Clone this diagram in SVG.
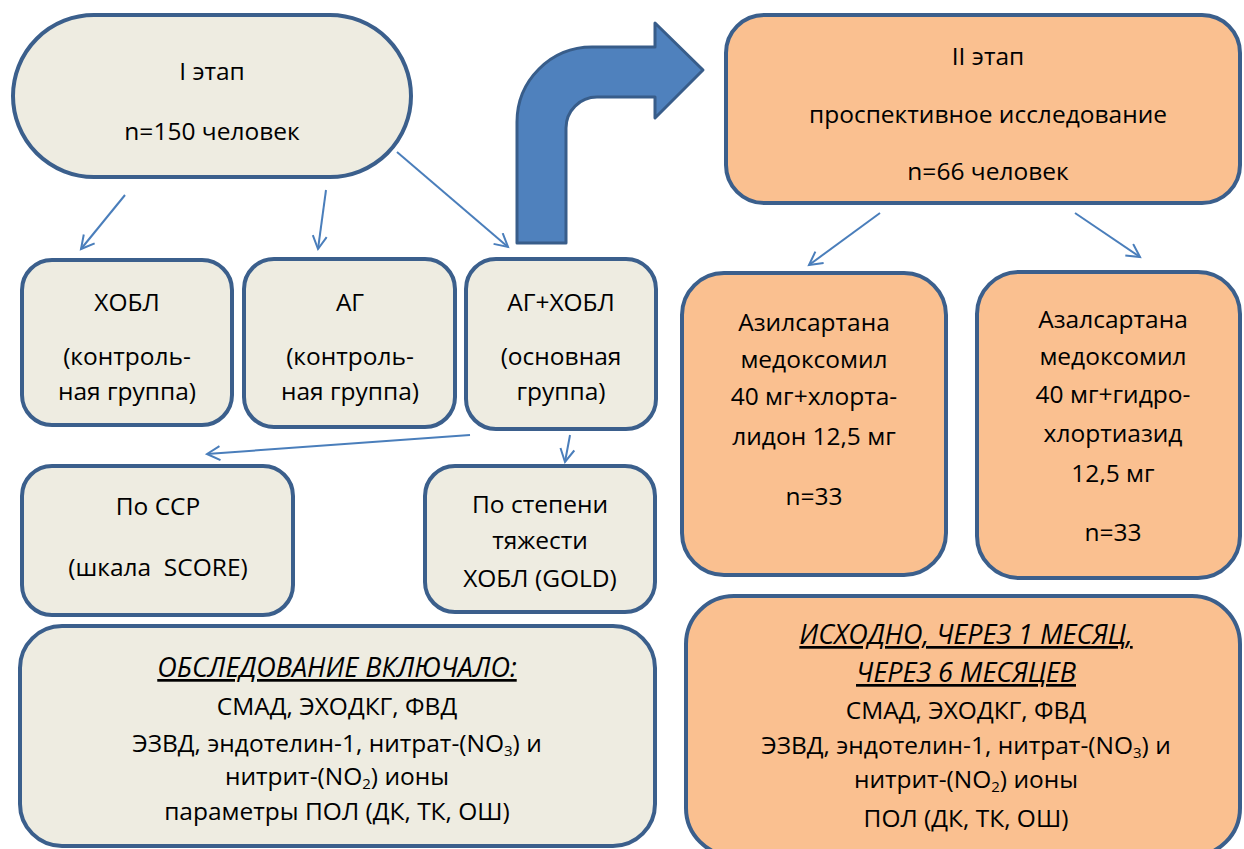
<svg xmlns="http://www.w3.org/2000/svg" width="1244" height="849" viewBox="0 0 1244 849">
<defs>
<style>
.box{stroke:#3b5f8c;stroke-width:4}
.beige{fill:#eeece1}
.orange{fill:#fac090}
text{font-family:"Open Sans","Liberation Sans",sans-serif;font-size:24.5px;fill:#000;text-anchor:middle}
.it{font-style:italic;text-decoration:underline;font-size:27px}
.sub{font-size:15px}
.conn{stroke:#4a7ebb;stroke-width:2;fill:none;marker-end:url(#arr)}
</style>
<marker id="arr" markerUnits="userSpaceOnUse" markerWidth="18" markerHeight="18" refX="15" refY="8" orient="auto">
<path d="M2,1 L15,8 L2,15" fill="none" stroke="#4a7ebb" stroke-width="2"/>
</marker>
</defs>
<rect width="1244" height="849" fill="#fff"/>

<g id="connectors">
<line class="conn" x1="125" y1="195" x2="81" y2="249"/>
<line class="conn" x1="326" y1="190" x2="318" y2="249"/>
<line class="conn" x1="397" y1="152" x2="508" y2="247"/>
<line class="conn" x1="880" y1="213" x2="809" y2="265"/>
<line class="conn" x1="1075" y1="213" x2="1140" y2="257"/>
<line class="conn" x1="470" y1="435" x2="207" y2="454"/>
<line class="conn" x1="570" y1="435" x2="565" y2="462"/>
<path id="bigarrow" d="M517,243 L517,122 A75,75 0 0 1 592,47 L655,47 L655,23 L703,70 L655,118 L655,97 L597,97 A31,31 0 0 0 566,128 L566,243 Z" fill="#4f81bd" stroke="#385d8a" stroke-width="3" stroke-linejoin="round"/>
</g>

<g id="stage1">
<rect class="box beige" x="13" y="15" width="398" height="162" rx="81" ry="81"/>
<text x="212" y="80">I этап</text>
<text x="212" y="140">n=150 человек</text>
</g>

<g id="stage2">
<rect class="box orange" x="726" y="15" width="514" height="188" rx="38" ry="38"/>
<text x="988" y="65">II этап</text>
<text x="988" y="123">проспективное исследование</text>
<text x="988" y="180">n=66 человек</text>
</g>

<g id="hobl">
<rect class="box beige" x="22" y="260" width="210" height="165" rx="30" ry="30"/>
<text x="127" y="311">ХОБЛ</text>
<text x="127" y="365">(контроль-</text>
<text x="127" y="400">ная группа)</text>
</g>

<g id="ag">
<rect class="box beige" x="244" y="259" width="211" height="168" rx="30" ry="30"/>
<text x="350" y="311">АГ</text>
<text x="350" y="365">(контроль-</text>
<text x="350" y="400">ная группа)</text>
</g>

<g id="agHobl">
<rect class="box beige" x="466" y="259" width="190" height="170" rx="30" ry="30"/>
<text x="561" y="311">АГ+ХОБЛ</text>
<text x="561" y="365">(основная</text>
<text x="561" y="400">группа)</text>
</g>

<g id="ssr">
<rect class="box beige" x="22" y="466" width="271" height="149" rx="30" ry="30"/>
<text x="158" y="515">По ССР</text>
<text x="158" y="576" xml:space="preserve">(шкала  SCORE)</text>
</g>

<g id="gold">
<rect class="box beige" x="425" y="466" width="230" height="146" rx="30" ry="30"/>
<text x="540" y="513">По степени</text>
<text x="540" y="549">тяжести</text>
<text x="540" y="587">ХОБЛ (GOLD)</text>
</g>

<g id="exam1">
<rect class="box beige" x="20" y="626" width="635" height="220" rx="42" ry="42"/>
<text class="it" x="337" y="677">ОБСЛЕДОВАНИЕ ВКЛЮЧАЛО:</text>
<text x="337" y="715">СМАД, ЭХОДКГ, ФВД</text>
<text x="337" y="752">ЭЗВД, эндотелин-1, нитрат-(NO<tspan class="sub" dy="4">3</tspan><tspan dy="-4">) и</tspan></text>
<text x="337" y="785">нитрит-(NO<tspan class="sub" dy="4">2</tspan><tspan dy="-4">) ионы</tspan></text>
<text x="337" y="820">параметры ПОЛ (ДК, ТК, ОШ)</text>
</g>

<g id="azil">
<rect class="box orange" x="682" y="273" width="264" height="302" rx="42" ry="42"/>
<text x="814" y="331">Азилсартана</text>
<text x="814" y="368">медоксомил</text>
<text x="814" y="405">40 мг+хлорта-</text>
<text x="814" y="445">лидон 12,5 мг</text>
<text x="814" y="505">n=33</text>
</g>

<g id="azal">
<rect class="box orange" x="977" y="272" width="263" height="306" rx="42" ry="42"/>
<text x="1113" y="328">Азалсартана</text>
<text x="1113" y="365">медоксомил</text>
<text x="1113" y="403">40 мг+гидро-</text>
<text x="1113" y="442">хлортиазид</text>
<text x="1113" y="482">12,5 мг</text>
<text x="1113" y="541">n=33</text>
</g>

<g id="exam2">
<rect class="box orange" x="686" y="596" width="554" height="260" rx="48" ry="48"/>
<text class="it" x="966" y="644">ИСХОДНО, ЧЕРЕЗ 1 МЕСЯЦ,</text>
<text class="it" x="966" y="682">ЧЕРЕЗ 6 МЕСЯЦЕВ</text>
<text x="966" y="719">СМАД, ЭХОДКГ, ФВД</text>
<text x="966" y="754">ЭЗВД, эндотелин-1, нитрат-(NO<tspan class="sub" dy="4">3</tspan><tspan dy="-4">) и</tspan></text>
<text x="966" y="788">нитрит-(NO<tspan class="sub" dy="4">2</tspan><tspan dy="-4">) ионы</tspan></text>
<text x="966" y="827">ПОЛ (ДК, ТК, ОШ)</text>
</g>
</svg>
